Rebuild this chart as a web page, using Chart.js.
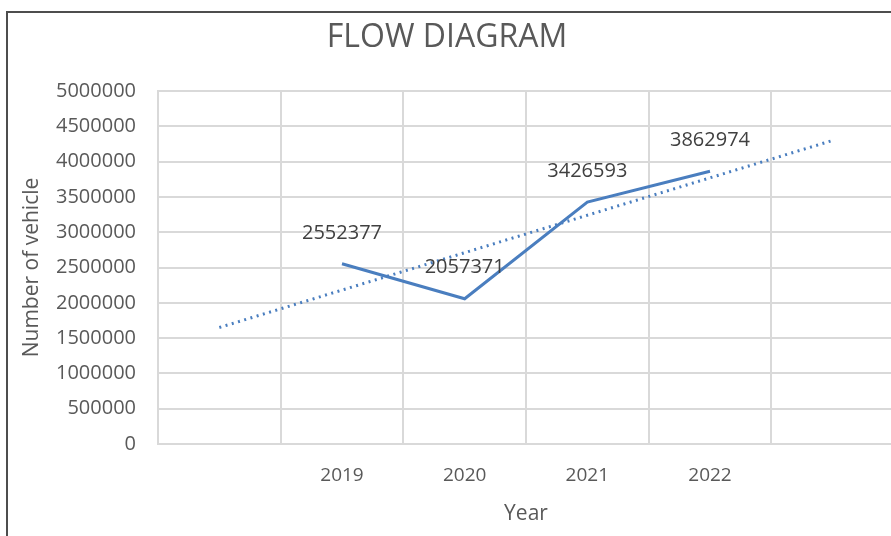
<!DOCTYPE html>
<html>
<head>
<meta charset="utf-8">
<script src="https://cdn.jsdelivr.net/npm/chart.js@4/dist/chart.umd.min.js"></script>
<style>
  html, body { margin: 0; padding: 0; background: #fff; overflow: hidden; }
  #wrap { position: relative; width: 891px; height: 536px; overflow: hidden; }
  #chart-flow { position: absolute; left: 0; top: 0; }
  #frame {
    position: absolute; left: 6px; top: 11px; right: -10px; bottom: -10px;
    border-left: 2px solid #4d4d4d; border-top: 2px solid #4d4d4d;
    pointer-events: none;
  }
</style>
</head>
<body>
<div id="wrap">
  <canvas id="chart-flow" width="900" height="536"></canvas>
  <div id="frame"></div>
</div>
<script>
// values
const years = ["", "2019", "2020", "2021", "2022", ""];
const vehicles = [null, 2552377, 2057371, 3426593, 3862974, null];
// linear trendline end points (one period back / forward)
const trend = [1650000, null, null, null, null, 4300000];

const textColor = "#595959";
const fontFamily = "Open Sans";

const valueLabels = {
  id: "valueLabels",
  afterDatasetsDraw(chart) {
    const ctx = chart.ctx;
    const meta = chart.getDatasetMeta(0);
    ctx.save();
    ctx.font = "20px " + fontFamily;
    ctx.fillStyle = "#404040";
    ctx.textAlign = "center";
    ctx.textBaseline = "middle";
    meta.data.forEach((pt, i) => {
      if (vehicles[i] == null) return;
      ctx.fillText(String(vehicles[i]), pt.x, pt.y - 31);
    });
    ctx.restore();
  },
};

let chartFlow = new Chart(document.getElementById("chart-flow").getContext("2d"), {
  type: "line",
  plugins: [valueLabels],
  data: {
    labels: years,
    datasets: [
      {
        label: "Number of vehicle",
        data: vehicles,
        borderColor: "#4a7ebf",
        borderWidth: 3,
        pointRadius: 0,
        tension: 0,
        spanGaps: false,
      },
      {
        label: "Linear (Number of vehicle)",
        data: trend,
        borderColor: "#4a7ebf",
        borderWidth: 3,
        borderDash: [2, 4.5],
        pointRadius: 0,
        tension: 0,
        spanGaps: true,
      },
    ],
  },
  options: {
    responsive: false,
    animation: false,
    layout: { padding: { left: 0, right: 6, top: 0, bottom: 0 } },
    plugins: {
      legend: { display: false },
      tooltip: { enabled: false },
      title: {
        display: true,
        text: "FLOW DIAGRAM",
        color: textColor,
        font: { family: fontFamily, size: 32, weight: 400, lineHeight: 1.2 },
        padding: { top: 19, bottom: 33.6 },
      },
    },
    scales: {
      x: {
        offset: true,
        grid: { offset: true, color: "#d9d9d9", lineWidth: 2, drawTicks: false },
        border: { color: "#d9d9d9", width: 2 },
        ticks: {
          color: textColor,
          padding: 20,
          autoSkip: false,
          maxRotation: 0,
          font: { family: fontFamily, size: 19 },
        },
        title: {
          display: true,
          text: "Year",
          color: textColor,
          font: { family: fontFamily, size: 21, lineHeight: 1.2 },
          padding: { top: 0, bottom: 9 },
        },
        afterFit(scale) { scale.height = 92; },
      },
      y: {
        min: 0,
        max: 5000000,
        grid: { color: "#d9d9d9", lineWidth: 2, drawTicks: false },
        border: { color: "#d9d9d9", width: 2 },
        ticks: {
          stepSize: 500000,
          color: textColor,
          padding: 22,
          font: { family: fontFamily, size: 20 },
          callback: (v) => String(v),
        },
        title: {
          display: true,
          text: "Number of vehicle",
          color: textColor,
          font: { family: fontFamily, size: 21, lineHeight: 1.2 },
          padding: { top: 19, bottom: 0 },
        },
        afterFit(scale) { scale.width = 158; },
      },
    },
  },
});
</script>
</body>
</html>
